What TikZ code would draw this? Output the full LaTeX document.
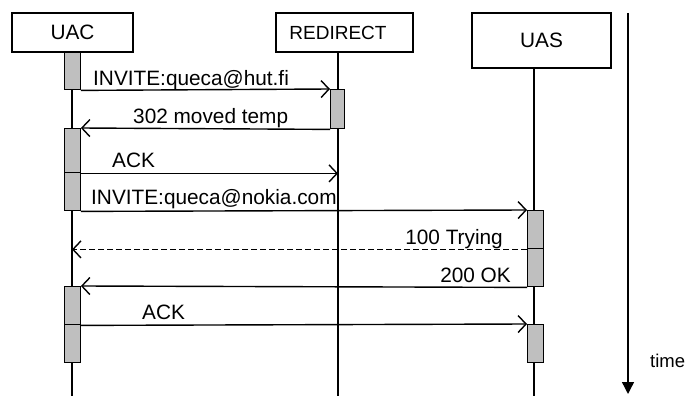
\documentclass[tikz,border=0pt]{standalone}
\usepackage{fontspec}
\setmainfont{Liberation Sans}
\usetikzlibrary{arrows.meta}
\begin{document}
\begin{tikzpicture}[x=1pt,y=-1pt,
  hdr/.style={draw,line width=1.4pt,fill=white,inner sep=0pt,font=\fontsize{20.8}{24}\selectfont},
  act/.style={draw,line width=1.4pt,fill=black!25,inner sep=0pt,minimum width=15.5pt,anchor=north west},
  life/.style={line width=1.3pt},
  msg/.style={line width=1.4pt,-{Straight Barb[length=8pt,width=17pt,line width=1.4pt]}},
  reply/.style={msg,dash pattern=on 6pt off 3pt},
  lbl/.style={inner sep=0pt,font=\fontsize{20.8}{24}\selectfont},
]
\useasboundingbox (0,0) rectangle (685,396);

% lifeline ends
\coordinate (uactop) at (72,52);   \coordinate (uacbot) at (72,396);
\coordinate (redtop) at (338,52);  \coordinate (redbot) at (338,396);
\coordinate (uastop) at (534,68);  \coordinate (uasbot) at (534,396);
\draw[life] (uactop) -- (uacbot);
\draw[life] (redtop) -- (redbot);
\draw[life] (uastop) -- (uasbot);

% participant boxes
\node[hdr,minimum width=121pt,minimum height=39pt] (uac) at (72.5,32.5) {UAC};
\node[hdr,minimum width=137pt,minimum height=39pt] (red) at (344.5,32.5) {};
\node[lbl,font=\fontsize{19}{22}\selectfont] (redtxt) at (338,32.5) {REDIRECT};
\node[hdr,minimum width=139pt,minimum height=55pt] (uas) at (541.5,40.5) {UAS};

% activation bars
\node[act,minimum height=37pt] (uac1) at (64,52) {};
\node[act,minimum height=39pt,minimum width=14pt] (red1) at (330,89) {};
\node[act,minimum height=44pt] (uac2) at (64,128) {};
\node[act,minimum height=38pt] (uac3) at (64,172) {};
\node[act,minimum height=38pt] (uas1) at (527,210) {};
\node[act,minimum height=38pt] (uas2) at (527,248) {};
\node[act,minimum height=38pt] (uac4) at (64,286) {};
\node[act,minimum height=38pt] (uac5) at (64,324) {};
\node[act,minimum height=38pt] (uas3) at (527,324) {};

% messages
\draw[msg] (uac1.south east) -- (red1.north west);
\draw[msg] (red1.south west) -- (uac2.north east);
\draw[msg] (uac2.south east) -- (uac2.south east -| redtop);
\draw[msg] (uac3.south east) -- (uas1.north west);
\draw[reply] (uas1.south west) -- (uas1.south west -| uactop);
\draw[msg] (uas2.south west) -- (uac4.north east);
\draw[msg] (uac4.south east) -- (uas3.north west);

% message labels
\node[lbl,anchor=base west] (l1) at (93,85) {INVITE:queca@hut.fi};
\node[lbl,anchor=base west] (l2) at (133,123) {302 moved temp};
\node[lbl,anchor=base west] (l3) at (112,167) {ACK};
\node[lbl,anchor=base west] (l4) at (91,204) {INVITE:queca@nokia.com};
\node[lbl,anchor=base east] (l5) at (503,244) {100 Trying};
\node[lbl,anchor=base east] (l6) at (511,282) {200 OK};
\node[lbl,anchor=base west] (l7) at (142,319) {ACK};

% time axis
\coordinate (ttop) at (628,13);
\coordinate (tbot) at (628,394);
\draw[line width=1.4pt,-{Triangle[length=12pt,width=12pt]}] (ttop) -- (tbot);
\node[lbl,anchor=base west,font=\fontsize{18.5}{22}\selectfont] (time) at (650,367) {time};
\end{tikzpicture}
\end{document}
